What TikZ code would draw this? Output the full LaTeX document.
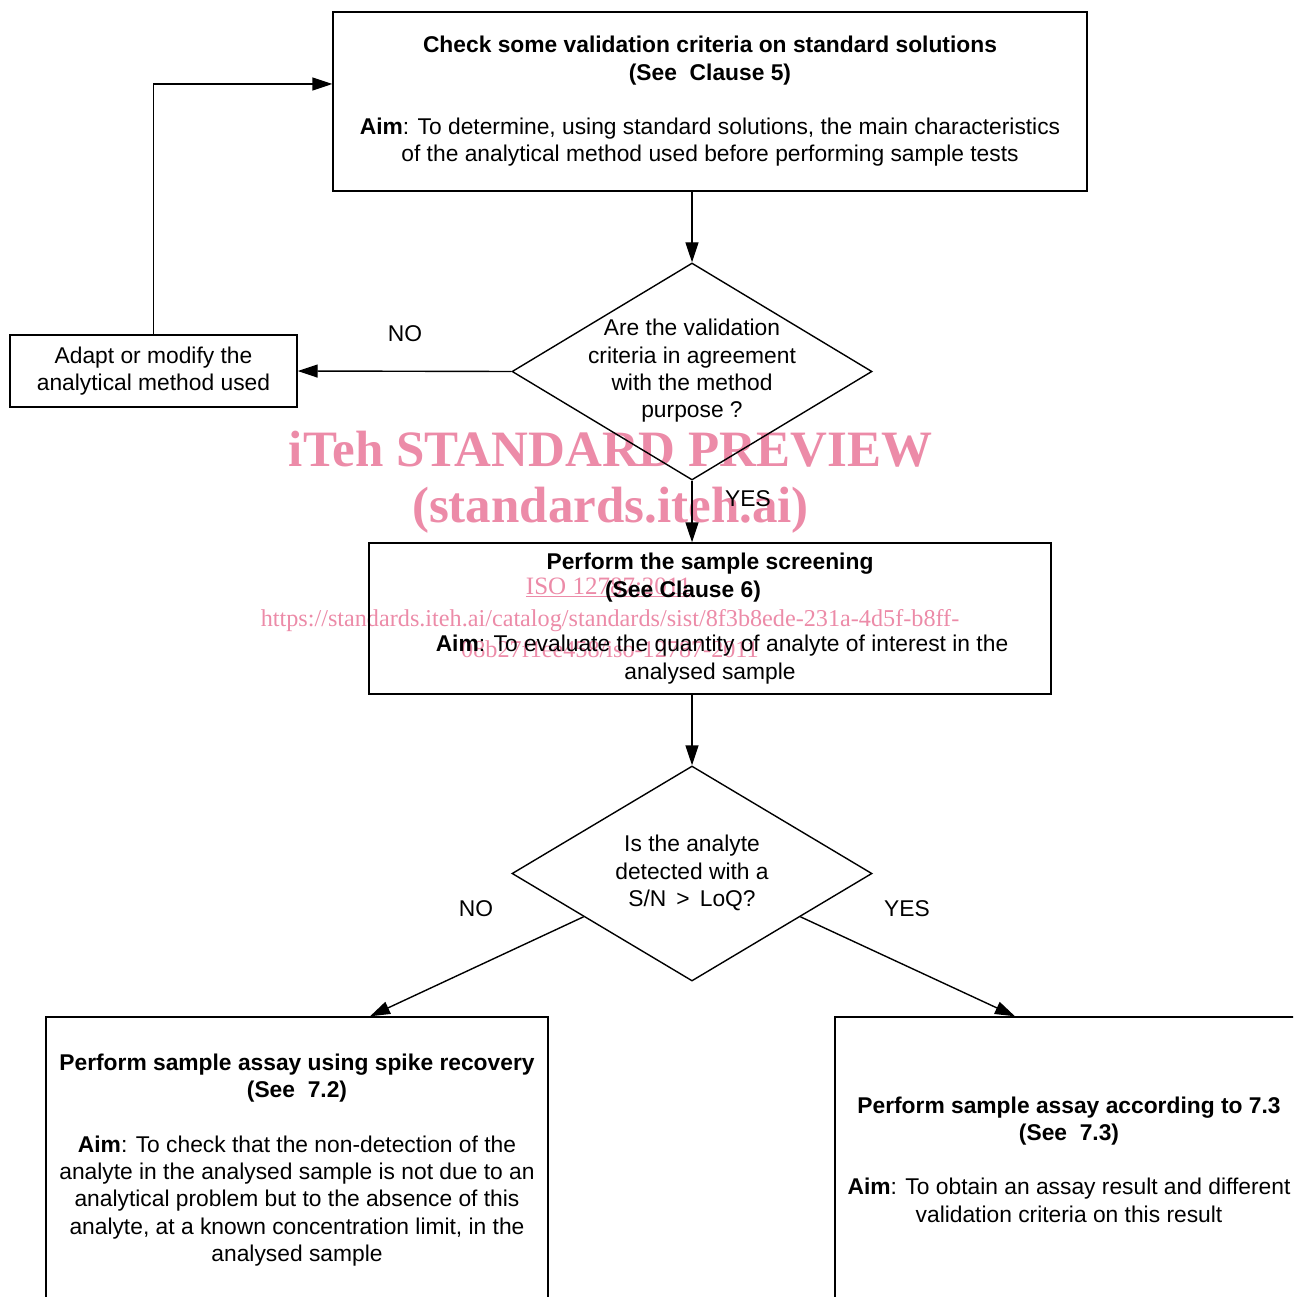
\documentclass[tikz,border=0pt]{standalone}
\usepackage{fontspec}
\setmainfont{Liberation Sans}
\newfontfamily\wmfont{Liberation Serif}
\usetikzlibrary{arrows.meta,shapes.geometric,calc}
\definecolor{wmpink}{RGB}{236,139,168}
\begin{document}
\begin{tikzpicture}[x=1pt,y=-1pt,
  box/.style={draw, line width=1.4pt, inner sep=0pt, align=center, font=\fontsize{22.8}{27.3}\selectfont},
  dia/.style={draw, diamond, line width=1.4pt, inner sep=0pt, minimum width=360pt},
  txt/.style={align=center, font=\fontsize{22.8}{27.3}\selectfont, inner sep=0pt},
  arr/.style={line width=1.4pt, -{Triangle[length=20pt,width=13pt]}},
  wm/.style={text=wmpink, inner sep=0pt, anchor=base}]
\useasboundingbox (0,0) rectangle (1293,1297);
\clip (0,0) rectangle (1293,1297);
% watermark
\node[wm, font=\wmfont\bfseries\fontsize{51}{51}\selectfont] (wm1) at (610.5,466) {iTeh STANDARD PREVIEW};
\node[wm, font=\wmfont\bfseries\fontsize{51}{51}\selectfont] (wm2) at (610.5,522) {(standards.iteh.ai)};
\node[wm, font=\wmfont\fontsize{25}{25}\selectfont] (wm3) at (608.5,594) {\underline{ISO 12787:2011}};
\node[wm, font=\wmfont\fontsize{24.2}{24.2}\selectfont] (wm4) at (610,626) {https://standards.iteh.ai/catalog/standards/sist/8f3b8ede-231a-4d5f-b8ff-};
\node[wm, font=\wmfont\fontsize{24.2}{24.2}\selectfont] (wm5) at (610,657) {08b27f1ee458/iso-12787-2011};
% boxes
\node[box, minimum width=754pt, minimum height=179pt] (box1) at (710,101.5)
  {\textbf{Check some validation criteria on standard solutions}\\
   \textbf{(See\ \ Clause 5)}\\[27.3pt]
   \textbf{Aim}: To determine, using standard solutions, the main characteristics\\
   of the analytical method used before performing sample tests};
\node[dia, minimum height=217pt] (d1) at (692,371.5) {};
\node[txt] (d1t) at (692,371) {Are the validation\\criteria in agreement\\with the method\\purpose ?};
\node[box, minimum width=287pt, minimum height=72pt] (adapt) at (153.5,371)
  {Adapt or modify the\\analytical method used};
\node[box, minimum width=682pt, minimum height=151pt] (box2) at (710,618.5)
  {\textbf{Perform the sample screening}\\
   \textbf{(See Clause 6)}\makebox[54pt]{}\\[27.3pt]
   \hspace*{24pt}\textbf{Aim}: To evaluate the quantity of analyte of interest in the\\
   analysed sample};
\node[dia, minimum height=215pt] (d2) at (692,873.5) {};
\node[txt] (d2t) at (692,873) {Is the analyte\\detected with a\\S/N \,>\, LoQ?};
\node[box, minimum width=502pt, minimum height=286pt] (box3) at (297,1160)
  {\textbf{Perform sample assay using spike recovery}\\
   \textbf{(See\ \ 7.2)}\\[27.3pt]
   \textbf{Aim}: To check that the non-detection of the\\
   analyte in the analysed sample is not due to an\\
   analytical problem but to the absence of this\\
   analyte, at a known concentration limit, in the\\
   analysed sample};
\node[box, minimum width=468pt, minimum height=285pt] (box4) at (1069,1159.5)
  {\textbf{Perform sample assay according to 7.3}\\
   \textbf{(See\ \ 7.3)}\\[27.3pt]
   \textbf{Aim}: To obtain an assay result and different\\
   validation criteria on this result};
% connectors
\draw[arr] (box1.south -| d1.north) -- (d1.north);
\draw[arr] (d1.west) -- (adapt.east);
\draw[arr] (adapt.north) |- ([yshift=17.5pt]box1.west);
\draw[arr] (d1.south) -- (box2.north -| d1.south);
\draw[arr] (box2.south -| d2.north) -- (d2.north);
\draw[arr] ($(d2.west)!0.4!(d2.south)$) -- ([xshift=73pt]box3.north);
\draw[arr] ($(d2.east)!0.4!(d2.south)$) -- ([xshift=-54pt]box4.north);
% labels
\node[txt] (no1) at (405,334) {NO};
\node[txt] (yes1) at (748,499) {YES};
\node[txt] (no2) at (476,909) {NO};
\node[txt] (yes2) at (907,909) {YES};
\end{tikzpicture}
\end{document}
